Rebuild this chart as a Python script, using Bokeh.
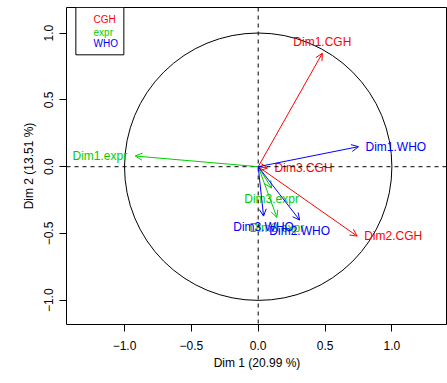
from bokeh.plotting import figure
from bokeh.models import (Range1d, Span, Arrow, OpenHead, ColumnDataSource, BoxAnnotation,
                          Label, FixedTicker, CustomJSTickFormatter)
from bokeh.core.properties import value
from bokeh.embed import file_html
from bokeh.resources import INLINE

# ---- data ----
groups = ["CGH", "expr", "WHO"]
group_colors = ["#FF0000", "#00CD00", "#0000FF"]
cgh_names = ["Dim1.CGH", "Dim2.CGH", "Dim3.CGH"]
cgh_x = [0.48, 0.74, 0.07]
cgh_y = [0.85, -0.52, -0.01]
expr_names = ["Dim1.expr", "Dim2.expr", "Dim3.expr"]
expr_x = [-0.92, 0.14, 0.10]
expr_y = [0.08, -0.38, -0.16]
who_names = ["Dim1.WHO", "Dim2.WHO", "Dim3.WHO"]
who_x = [0.75, 0.31, 0.04]
who_y = [0.15, -0.40, -0.37]
ticks = [-1.0, -0.5, 0.0, 0.5, 1.0]
x_title = "Dim 1 (20.99 %)"
y_title = "Dim 2 (13.51 %)"

FONT = "Liberation Sans"

p = figure(width=447, height=383, output_backend="svg", toolbar_location=None,
           x_range=Range1d(-1.434, 1.416), y_range=Range1d(-1.182, 1.1925),
           min_border_left=66, min_border_right=0, min_border_top=7, min_border_bottom=59)
p.grid.visible = False
p.outline_line_color = "black"
p.outline_line_width = 1
p.outline_line_alpha = 1
p.background_fill_color = "white"
p.border_fill_color = "white"

fmt = CustomJSTickFormatter(code="return (tick < -1e-9 ? '\u2212' : '') + Math.abs(tick).toFixed(1);")
for ax in (p.xaxis[0], p.yaxis[0]):
    ax.ticker = FixedTicker(ticks=ticks)
    ax.formatter = fmt
    ax.axis_line_color = None
    ax.major_tick_line_color = "black"
    ax.major_tick_out = 7
    ax.major_tick_in = 0
    ax.minor_tick_line_color = None
    ax.major_label_text_font = FONT
    ax.major_label_text_font_size = "12px"
    ax.major_label_text_color = "black"
    ax.axis_label_text_font = FONT
    ax.axis_label_text_font_size = "12px"
    ax.axis_label_text_font_style = "normal"
    ax.axis_label_text_color = "black"

p.xaxis.axis_label = x_title
p.yaxis.axis_label = y_title
p.xaxis.major_label_standoff = 9
p.xaxis.axis_label_standoff = 3
p.yaxis.major_label_orientation = "vertical"
p.yaxis.major_label_standoff = 6
p.yaxis.axis_label_standoff = 6

# dashed axes through origin
p.add_layout(Span(location=0, dimension="width", line_color="black", line_dash="4 4", line_width=1))
p.add_layout(Span(location=0, dimension="height", line_color="black", line_dash="4 4", line_width=1))

# unit circle
p.circle(x=[0], y=[0], radius=1, fill_color=None, line_color="black", line_width=1)

all_sets = [(cgh_names, cgh_x, cgh_y), (expr_names, expr_x, expr_y), (who_names, who_x, who_y)]

# arrows
for (names, xs, ys), col in zip(all_sets, group_colors):
    src = ColumnDataSource(dict(x0=[0.0] * len(xs), y0=[0.0] * len(ys), x=xs, y=ys))
    p.add_layout(Arrow(end=OpenHead(size=7, line_color=col, line_width=1),
                       x_start="x0", y_start="y0", x_end="x", y_end="y",
                       source=src, line_color=col, line_width=1))

# labels, positioned like R's text(pos=...)
pos_style = {
    1: dict(text_align="center", text_baseline="top", x_offset=0, y_offset=4),
    2: dict(text_align="right", text_baseline="middle", x_offset=-8, y_offset=0),
    3: dict(text_align="center", text_baseline="bottom", x_offset=0, y_offset=-4),
    4: dict(text_align="left", text_baseline="middle", x_offset=7, y_offset=0),
}
for (names, xs, ys), col in zip(all_sets, group_colors):
    for n, xv, yv in zip(names, xs, ys):
        if abs(xv) > abs(yv):
            pos = 4 if xv > 0 else 2
        else:
            pos = 3 if yv > 0 else 1
        st = pos_style[pos]
        p.text(x=[xv], y=[yv], text=[n], text_color=col, text_font=value(FONT),
               text_font_size="12px", **st)

# legend box
p.add_layout(BoxAnnotation(left=-1.364, right=-1.005, top=1.1925, bottom=0.838,
                           fill_color="white", fill_alpha=1, line_color="black",
                           line_width=1, line_alpha=1))
leg_y = [1.103, 1.003, 0.92]
for g, col, ly in zip(groups, group_colors, leg_y):
    p.add_layout(Label(x=-1.232, y=ly, text=g, text_color=col, text_font=FONT,
                       text_font_size="10px", text_align="left", text_baseline="middle"))

open("out.html", "w").write(file_html(p, INLINE))
